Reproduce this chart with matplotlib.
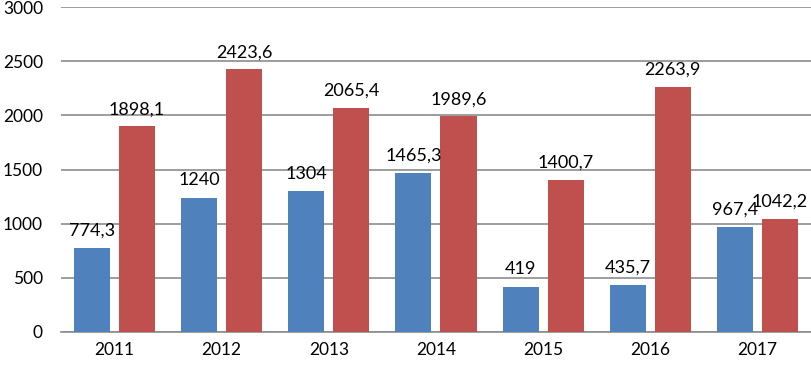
import matplotlib
matplotlib.use("Agg")
import matplotlib.pyplot as plt
import numpy as np

years = ["2011", "2012", "2013", "2014", "2015", "2016", "2017"]
blue_vals = [774.3, 1240, 1304, 1465.3, 419, 435.7, 967.4]
red_vals = [1898.1, 2423.6, 2065.4, 1989.6, 1400.7, 2263.9, 1042.2]

plt.rcParams['font.family'] = ['Lato', 'DejaVu Sans']

def fmt(v):
    s = ('%.1f' % v).rstrip('0').rstrip('.')
    return s.replace('.', ',')

fig = plt.figure(figsize=(8.11, 3.66), dpi=100)
ax = fig.add_axes([61 / 811, 34 / 366, 750 / 811, 325 / 366])

x = np.arange(len(years))
w = 0.336
off = 0.21
b1 = ax.bar(x - off, blue_vals, w, color='#4F81BD', zorder=3)
b2 = ax.bar(x + off, red_vals, w, color='#C0504D', zorder=3)

for bars, vals in ((b1, blue_vals), (b2, red_vals)):
    for r, v in zip(bars, vals):
        ax.text(r.get_x() + r.get_width() / 2, v + 85, fmt(v),
                ha='center', va='bottom', fontsize=13, color='black')

ax.set_xlim(-0.5, len(years) - 0.5)
ax.set_ylim(0, 3000)
ax.set_yticks(np.arange(0, 3001, 500))
ax.set_xticks(x)
ax.set_xticklabels(years)
ax.tick_params(axis='both', length=0, labelsize=12.5)
ax.tick_params(axis='x', pad=7)
ax.tick_params(axis='y', pad=13)
ax.grid(axis='y', color='#8c8c8c', linewidth=1.2, zorder=0)
for s in ['top', 'right', 'left']:
    ax.spines[s].set_visible(False)
ax.spines['bottom'].set_color('#8c8c8c')
ax.spines['bottom'].set_linewidth(1.2)

plt.savefig("out.png", dpi=100)
